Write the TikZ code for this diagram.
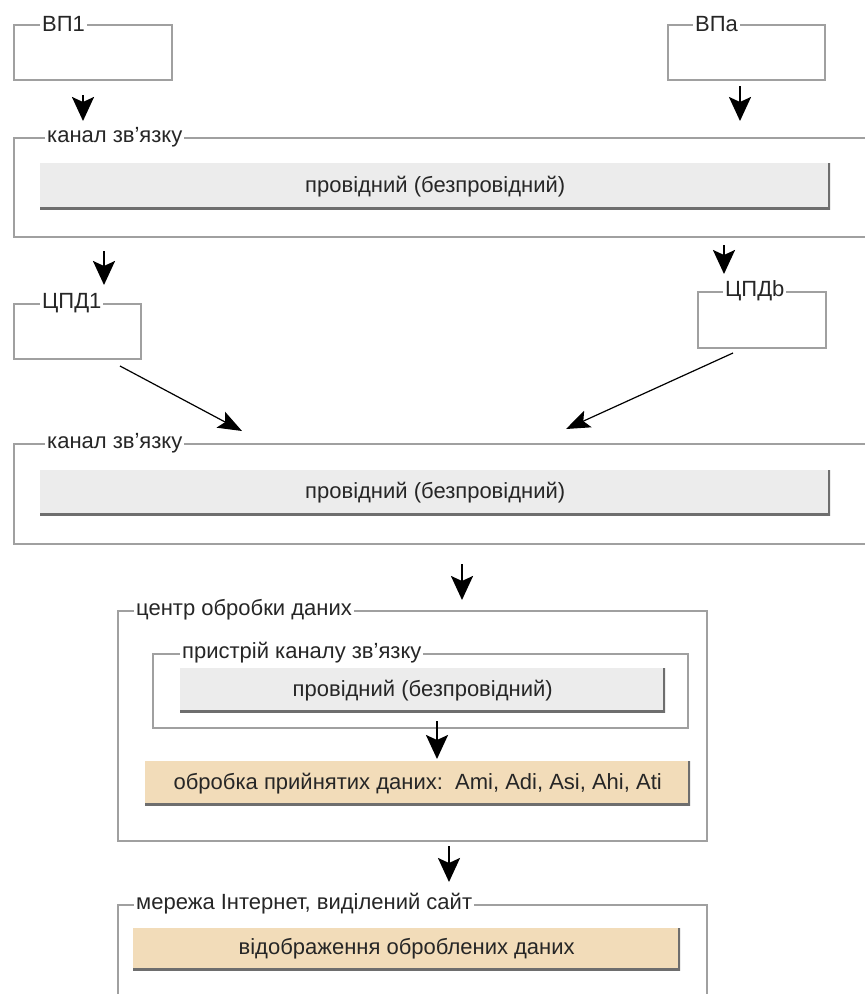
\documentclass[tikz,border=0pt]{standalone}
\usepackage{fontspec}
\setmainfont{Liberation Sans}
\usepackage{xcolor}
\usetikzlibrary{arrows.meta}

\definecolor{framegray}{HTML}{A0A0A0}
\definecolor{btngray}{HTML}{ECECEC}
\definecolor{btntan}{HTML}{F2DCB9}
\definecolor{btnedge}{HTML}{6E6E6E}

\begin{document}
\begin{tikzpicture}[
        x=1pt, y=-1pt,
        every node/.style={font=\fontsize{22}{26}\selectfont, text=black!85},
        frame/.style={rectangle, draw=framegray, line width=1.6pt, anchor=north west, inner sep=0pt},
        flabel/.style={fill=white, inner sep=2pt, anchor=west},
        button/.style={rectangle, fill=btngray, anchor=north west, inner sep=0pt,
            path picture={\draw[btnedge, line width=4pt]
                (path picture bounding box.south west) -- (path picture bounding box.south east)
                -- (path picture bounding box.north east);}},
        databtn/.style={button, fill=btntan},
        arrow/.style={-{Stealth[length=24pt, width=22pt, inset=5pt]}, line width=2.4pt},
        thinarrow/.style={-{Stealth[length=24pt, width=18pt, inset=5pt]}, line width=1.2pt}
    ]
        \useasboundingbox (0,0) rectangle (865,994);

        % Frames
        \node[frame, minimum width=158, minimum height=55] (vpone) at (13,24) {};
        \node[frame, minimum width=157, minimum height=55] (vpa) at (667,24) {};
        \node[frame, minimum width=900, minimum height=99] (chanone) at (13,137) {};
        \node[frame, minimum width=127, minimum height=55] (cpdone) at (13,303) {};
        \node[frame, minimum width=128, minimum height=56] (cpdb) at (697,291) {};
        \node[frame, minimum width=900, minimum height=100] (chantwo) at (13,443) {};
        \node[frame, minimum width=589, minimum height=230] (centre) at (117,610) {};
        \node[frame, minimum width=535, minimum height=74] (device) at (152,653) {};
        \node[frame, minimum width=589, minimum height=150] (net) at (117,904) {};

        % Frame labels
        \node[flabel] at ([xshift=27pt]vpone.north west) {ВП1};
        \node[flabel] at ([xshift=26pt]vpa.north west) {ВПа};
        \node[flabel] at ([xshift=32pt]chanone.north west) {канал зв'язку};
        \node[flabel] at ([xshift=27pt]cpdone.north west) {ЦПД1};
        \node[flabel] at ([xshift=26pt]cpdb.north west) {ЦПДb};
        \node[flabel] at ([xshift=32pt]chantwo.north west) {канал зв'язку};
        \node[flabel] at ([xshift=17pt]centre.north west) {центр обробки даних};
        \node[flabel] at ([xshift=28pt]device.north west) {пристрій каналу зв'язку};
        \node[flabel] at ([xshift=17pt]net.north west) {мережа Інтернет, виділений сайт};

        % Buttons
        \node[button, minimum width=790, minimum height=46] (wiredone) at (40,163) {провідний (безпровідний)};
        \node[button, minimum width=790, minimum height=45] (wiredtwo) at (40,470) {провідний (безпровідний)};
        \node[button, minimum width=485, minimum height=44] (wiredthree) at (180,668) {провідний (безпровідний)};
        \node[databtn, minimum width=545, minimum height=44] (process) at (145,761) {обробка прийнятих даних:\ \ Ami, Adi, Asi, Ahi, Ati};
        \node[databtn, minimum width=547, minimum height=42] (display) at (133,928) {відображення оброблених даних};

        % Arrow ends
        \coordinate (aones) at (83,95);   \coordinate (aonee) at (83,121);
        \coordinate (aas) at (740,86);    \coordinate (aae) at (740,121);
        \coordinate (atwos) at (104,251); \coordinate (atwoe) at (104,285);
        \coordinate (abs) at (724,245);   \coordinate (abe) at (724,274);
        \coordinate (dones) at (120,366); \coordinate (donee) at (242,431);
        \coordinate (dbs) at (733,353);   \coordinate (dbe) at (566,429);
        \coordinate (ins) at (462,564);   \coordinate (ine) at (462,600);
        \coordinate (mids) at (437,721);  \coordinate (mide) at (437,759);
        \coordinate (outs) at (449,846);  \coordinate (oute) at (449,882);

        % Arrows
        \draw[arrow] (aones) -- (aonee);
        \draw[arrow] (aas) -- (aae);
        \draw[arrow] (atwos) -- (atwoe);
        \draw[arrow] (abs) -- (abe);
        \draw[thinarrow] (dones) -- (donee);
        \draw[thinarrow] (dbs) -- (dbe);
        \draw[arrow] (ins) -- (ine);
        \draw[arrow] (mids) -- (mide);
        \draw[arrow] (outs) -- (oute);
    \end{tikzpicture}
\end{document}
